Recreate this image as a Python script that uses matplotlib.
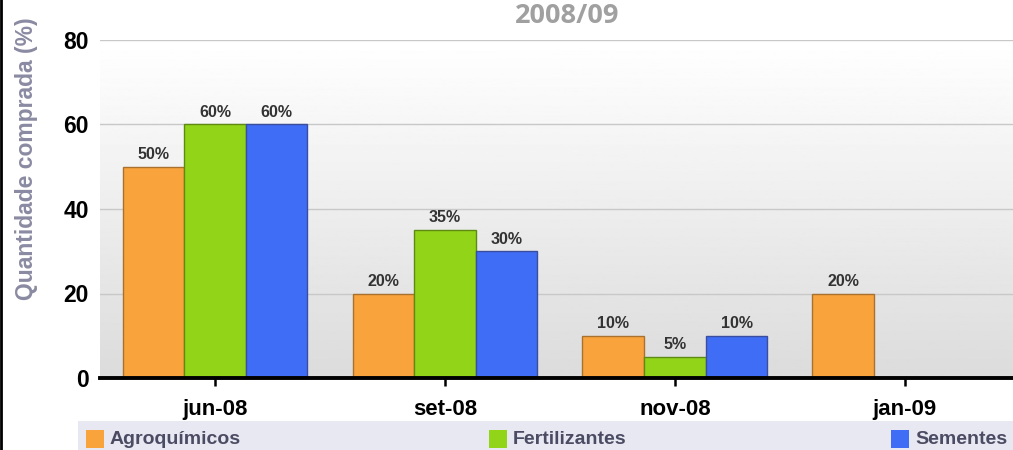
import numpy as np
import matplotlib.pyplot as plt
from matplotlib.patches import Rectangle
from matplotlib.lines import Line2D

plt.rcParams['font.family'] = ['Liberation Sans', 'DejaVu Sans']

categories = ["jun-08", "set-08", "nov-08", "jan-09"]
series = ["Agroquímicos", "Fertilizantes", "Sementes"]
agro = [50, 20, 10, 20]
fert = [60, 35, 5, 0]
seme = [60, 30, 10, 0]
colors = ["#F9A33C", "#92D418", "#3F6DF6"]
edges = ["#A8722E", "#5E8A14", "#3A4E9E"]

fig = plt.figure(figsize=(10.13, 4.5), dpi=100)
ax = fig.add_axes([100 / 1013, 1 - 378 / 450, 1 - 100 / 1013, 338 / 450])

x = np.arange(len(categories))
w = 0.268
for i, (vals, c, ec) in enumerate(zip([agro, fert, seme], colors, edges)):
    pos = x + (i - 1) * w
    for xp, v in zip(pos, vals):
        if v <= 0:
            continue
        ax.bar(xp, v, width=w, color=c, edgecolor=ec, linewidth=1, zorder=3)
        ax.text(xp, v + 1.1, f"{v}%", ha="center", va="bottom", fontsize=11.5,
                fontweight="bold", color="#333333", zorder=4)

# fundo em degradê
grad = np.linspace(0.86, 1.0, 256).reshape(-1, 1)
ax.imshow(grad, extent=(-0.5, 3.47, 0, 80), origin="lower", cmap="gray",
          vmin=0, vmax=1, aspect="auto", zorder=0)

ax.set_xlim(-0.5, 3.47)
ax.set_ylim(0, 80)
ax.set_yticks([0, 20, 40, 60, 80])
ax.yaxis.grid(True, color="#c8c8c8", linewidth=1, zorder=1)
ax.set_axisbelow(True)
for s in ["left", "right", "top"]:
    ax.spines[s].set_visible(False)
ax.spines["bottom"].set_linewidth(2.8)
ax.spines["bottom"].set_zorder(5)
ax.set_xticks(x)
ax.set_xticklabels(categories, fontsize=16, fontweight="bold")
ax.tick_params(axis="x", length=6, width=1.8, pad=9, color="black")
ax.tick_params(axis="y", length=0, pad=8, labelsize=16.5)
for t in ax.get_yticklabels():
    t.set_fontweight("bold")
ax.set_ylabel("Quantidade comprada (%)", fontsize=16.5, fontweight="bold",
              color="#8a8aa2")
ax.yaxis.set_label_coords(-62 / 913, 0.65)

fig.text(567 / 1013, 1 - 16 / 450, "2008/09", ha="center", va="center",
         fontsize=19.5, fontweight="bold", color="#a0a0a0", family="Open Sans")

# faixa da legenda
fig.patches.append(Rectangle((78 / 1013, 0), 1, 29 / 450, transform=fig.transFigure,
                             facecolor="#e8e8f2", edgecolor="none", zorder=0))
leg_x = [86, 489, 891]
for lx, name, c in zip(leg_x, series, colors):
    fig.patches.append(Rectangle((lx / 1013, 2 / 450), 18 / 1013, 18 / 450,
                                 transform=fig.transFigure, facecolor=c,
                                 edgecolor="none", zorder=1))
    fig.text((lx + 24) / 1013, 11 / 450, name, ha="left", va="center",
             fontsize=14, fontweight="bold", color="#4b4b63")

fig.lines.append(Line2D([1 / 1013, 1 / 1013], [0, 1], transform=fig.transFigure,
                        color="black", linewidth=2))

fig.savefig("out.png", dpi=100)
